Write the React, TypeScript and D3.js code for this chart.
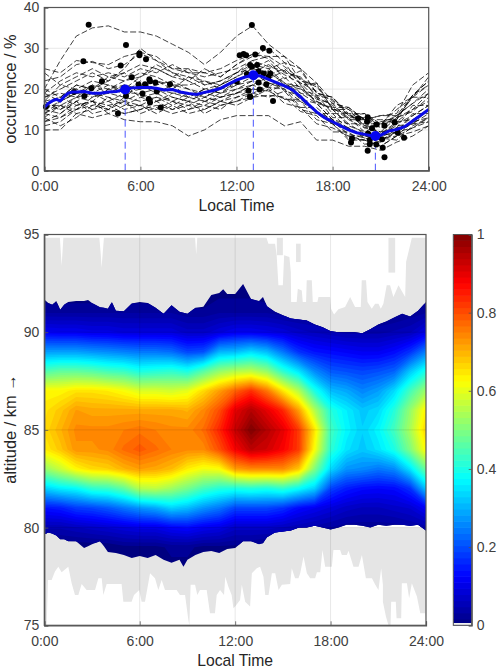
import { useEffect, useRef } from 'react';
import * as d3 from 'd3';

// Upper panel: one dashed curve per night, hourly occurrence in %
const hourTicks = [0, 6, 12, 18, 24];
const hourLabels = ['0:00', '6:00', '12:00', '18:00', '24:00'];
const seriesHours = d3.range(0, 25);
const nightlySeries = [
  [20, 27, 33, 35, 35.5, 34, 34, 33, 31, 29, 26, 29, 33, 35.5, 31, 28, 25, 21.5, 15, 14, 10.5, 11.5, 12.5, 18.5, 22],
  [10, 10, 14, 13, 14, 12.5, 12, 12, 11, 8.5, 10, 12.5, 13.5, 13.5, 13.5, 11, 12, 7.5, 7.5, 6, 6, 5, 7, 8.5, 11],
  [25, 24, 27, 26.5, 26, 28, 29, 28, 25, 24, 24, 23, 26, 28, 30, 26.5, 25, 19, 18, 13.5, 14, 11.5, 15, 18, 23],
  [22, 23, 26, 26.8, 25, 26, 28.7, 27, 25, 25, 24, 25, 27, 28.5, 28, 28, 22, 21, 15, 15, 12.5, 13.5, 14, 21, 24],
  [18, 20, 22, 24, 22, 25, 30, 27, 24, 22, 25, 23, 26, 28.6, 27.5, 24, 23, 18, 16, 13, 13, 11, 16, 18, 21],
  [14, 17, 19, 21, 20, 22, 23, 26, 24, 23, 22, 21, 24, 26, 25, 26.5, 21, 21.5, 17, 15, 11, 12, 13, 18, 18],
  [17, 18, 21, 20, 22, 24, 21, 22, 20, 23, 21, 22, 24, 25, 27, 22.5, 24.5, 19, 18, 14, 14, 10.5, 13, 15, 19],
  [15, 14, 17, 19, 21, 19, 20, 22, 21, 20, 19, 21, 23, 25, 24, 21.5, 19, 18, 13, 13, 9.5, 11.5, 12, 15, 17],
  [13, 16, 15, 18, 19, 18, 21, 19, 21, 18, 20, 19, 22, 24, 22.5, 24.5, 20, 18.5, 14, 14, 11, 9.5, 10.5, 16, 16],
  [16, 15, 18, 17, 20, 21, 18, 19, 17, 19, 18, 20, 21, 23, 24.5, 21, 20, 17, 15, 11, 9.5, 9, 12, 12.5, 15],
  [19, 17, 20, 19, 18, 17, 19, 20, 18, 17, 19, 18, 20, 22, 20.5, 23, 19, 16.5, 12.5, 11.5, 9, 8.5, 9.5, 14, 14],
  [12, 13, 16, 17, 15, 18, 17, 18, 16, 18, 17, 19, 20, 21, 23, 19.5, 18.5, 14, 14, 10, 8.5, 9, 11, 11.5, 14],
  [11, 12, 15, 16, 17, 15, 16, 15, 17, 16, 18, 17, 19, 21, 21.5, 20, 17, 14.5, 11.5, 10.5, 8, 8, 8.5, 12, 13],
  [14, 16, 14, 15, 16, 14, 15, 17, 15, 16, 15, 17, 18, 20, 20.5, 20, 15.5, 15.5, 12, 9, 8, 7, 10.5, 11.5, 12],
  [17, 15, 17, 14, 15, 17, 14, 15.5, 14, 15, 16, 15, 18, 19, 20.5, 17.5, 17, 12.5, 11.5, 8, 7.5, 8, 7.5, 11, 13],
  [16, 18, 16, 17, 14, 16, 16, 14, 16, 14, 15, 17, 16, 18, 18.5, 18, 14.5, 13.5, 9.5, 9.5, 6.5, 7, 9.5, 10.5, 12],
  [13, 11, 13, 16, 15, 14, 15, 16, 15, 17, 14, 16, 17, 19, 18, 19.5, 15, 14, 11.5, 7.5, 7.5, 6, 8.5, 9.5, 11],
  [15, 17, 19, 18, 20, 19, 22, 20, 19, 18, 20, 19, 21, 22, 25, 21.5, 20.5, 17, 15, 11.5, 11.5, 9, 11.5, 13.5, 16],
  [18, 19, 18, 21, 19, 21, 20, 21, 22, 20, 18, 20, 22, 24, 21.5, 20.5, 21, 16.5, 15.5, 12.5, 10.5, 9.5, 13, 14.5, 18],
  [20, 18, 21, 20, 23, 22, 24, 23, 21, 21, 22, 20, 22, 24, 26, 23.5, 21.5, 17.5, 16.5, 12.5, 12.5, 10.5, 13.5, 16.5, 20],
  [17, 21, 20, 22, 21, 20, 23, 25, 23, 22, 20, 21, 23, 26, 23.5, 25, 21.5, 19.5, 15.5, 15.5, 12.5, 12.5, 12.5, 18.5, 21],
  [12, 14, 17, 15, 18, 16, 18, 17, 18, 17, 16, 18, 19, 20, 19.5, 17.5, 17.5, 14.5, 12.5, 8.5, 8.5, 7.5, 9.5, 11.5, 15],
  [14, 13, 15, 17, 16, 17, 16, 18, 17, 15, 17, 16, 17, 18, 20, 16.5, 15.5, 11.5, 10.5, 8.5, 7.5, 6, 8.5, 10.5, 13],
  [16, 16, 18, 19, 17, 19, 19, 17, 19, 19, 17, 18, 19, 21, 19.5, 21, 17.5, 16.5, 12.5, 10.5, 8.5, 8.5, 9.5, 13.5, 16],
  [19, 22, 24, 23, 24, 23, 25, 24, 26, 24, 23, 24, 25, 27, 25.5, 24.5, 22.5, 20.5, 16.5, 15.5, 12.5, 13.5, 13.5, 18.5, 22],
  [24, 21, 23, 25, 23, 24, 26, 25, 23, 25, 21, 22, 24, 27, 28, 25.5, 22.5, 18.5, 17.5, 13.5, 12.5, 11.5, 13.5, 16.5, 19],
];

// mean curve
const meanHours = [0, 0.25, 0.5, 0.75, 1, 1.25, 1.5, 1.75, 2, 2.5, 3, 3.5, 4, 4.5, 5, 5.5, 6, 6.5, 7, 7.5, 8, 8.5, 9, 9.5, 10, 10.5, 11, 11.5, 12, 12.5, 13, 13.5, 14, 14.5, 15, 15.5, 16, 16.5, 17, 17.5, 18, 18.5, 19, 19.5, 20, 20.5, 21, 21.5, 22, 22.5, 23, 23.5, 24];
const meanValues = [15.5, 16.5, 17.1, 17.5, 17.1, 18.2, 19, 19.3, 19.3, 19.4, 19, 19, 19.3, 19.4, 19.9, 20.3, 20.4, 20.4, 20.2, 19.8, 19.9, 19.3, 18.9, 18.7, 19.2, 19.6, 20.2, 21.2, 22.2, 22.9, 23.4, 23.2, 22.4, 21.6, 20.8, 19.8, 18.1, 16.2, 14.4, 13, 12, 11, 10, 9.3, 8.9, 8.5, 8.7, 9.7, 10.1, 10.8, 12.2, 13.6, 15];

// big blue markers with their dashed stems
const peakHours = [5.05, 13.05, 20.67];
const peakValues = [19.9, 23.4, 8.5];

// black dots: extremes of the single nights
const dotHours = [2.77, 5.1, 5.94, 5.94, 6.35, 2.44, 4.77, 5.46, 3.6, 6.56, 6.6, 6.94, 5.88, 6.29, 7.85, 1.85, 2.94, 2.5, 6.13, 7.02, 5.1, 6.52, 6.6, 7.27, 4.6, 0.1, 12.02, 12.2, 12.44, 12.6, 12.85, 12.65, 12.75, 12.85, 12.96, 13.65, 14.05, 13.17, 12.96, 13.28, 13.38, 13.69, 14.11, 14, 13.38, 13.86, 13.44, 14.28, 12.86, 19.59, 20.19, 20.15, 20.73, 21.24, 21.88, 20.46, 20.21, 22.07, 22.46, 19.21, 19.15, 20.32, 20.32, 20.73, 21.09, 21.13, 20.19, 21.24];
const dotValues = [35.8, 30.8, 28.7, 28.3, 27.3, 26.8, 25.8, 22.9, 21.9, 22.4, 21.9, 21.6, 21.1, 21.2, 21.2, 19.3, 20.2, 18.3, 18.9, 19.4, 18.3, 17.6, 16.7, 15.5, 14, 15.7, 21.8, 28.3, 28.6, 28.3, 25.9, 23.7, 19.6, 18.1, 35.7, 30.1, 29.4, 28.5, 25.5, 25.9, 24.4, 23.8, 23.8, 23, 21.6, 21.2, 19.9, 17.1, 18.1, 12.8, 13.1, 12, 11.3, 11, 11.8, 10.4, 9.1, 9.3, 8.1, 7.9, 6.9, 7.5, 6.5, 6.4, 7.7, 5.6, 4.9, 3.3];

// Lower panel: one column per hour, normalised intensity at altitudes 92 ... 79 km
const heatAltitudes = [92, 91, 90, 89, 88, 87, 86, 85, 84, 83, 82, 81, 80, 79];
const heatByHour = [
  [0, 0.03, 0.115, 0.28, 0.45, 0.63, 0.65, 0.66, 0.64, 0.52, 0.33, 0.14, 0.05, 0],
  [0, 0.03, 0.11, 0.28, 0.47, 0.63, 0.68, 0.7, 0.68, 0.57, 0.36, 0.15, 0.05, 0],
  [0, 0.03, 0.11, 0.28, 0.47, 0.65, 0.72, 0.74, 0.73, 0.63, 0.375, 0.18, 0.06, 0],
  [0, 0.03, 0.1, 0.27, 0.46, 0.65, 0.71, 0.74, 0.73, 0.66, 0.42, 0.19, 0.07, 0],
  [0, 0.03, 0.1, 0.26, 0.44, 0.64, 0.71, 0.74, 0.74, 0.67, 0.43, 0.21, 0.08, 0],
  [0, 0.03, 0.09, 0.25, 0.43, 0.62, 0.71, 0.75, 0.77, 0.7, 0.47, 0.24, 0.09, 0.01],
  [0, 0.03, 0.09, 0.24, 0.4, 0.59, 0.71, 0.76, 0.79, 0.72, 0.55, 0.27, 0.1, 0.01],
  [0, 0.03, 0.09, 0.24, 0.41, 0.59, 0.71, 0.75, 0.77, 0.71, 0.56, 0.29, 0.1, 0.01],
  [0, 0.03, 0.09, 0.23, 0.42, 0.58, 0.71, 0.74, 0.75, 0.69, 0.53, 0.33, 0.12, 0.02],
  [0, 0.02, 0.07, 0.19, 0.4, 0.6, 0.7, 0.74, 0.74, 0.64, 0.49, 0.31, 0.13, 0.02],
  [0, 0.02, 0.07, 0.2, 0.46, 0.66, 0.74, 0.77, 0.74, 0.61, 0.44, 0.27, 0.11, 0.01],
  [0.01, 0.03, 0.09, 0.3, 0.52, 0.72, 0.8, 0.84, 0.8, 0.62, 0.41, 0.24, 0.1, 0.01],
  [0.01, 0.03, 0.11, 0.31, 0.55, 0.78, 0.9, 0.93, 0.88, 0.72, 0.4, 0.19, 0.07, 0.01],
  [0.01, 0.03, 0.11, 0.34, 0.56, 0.83, 0.95, 1, 0.94, 0.74, 0.41, 0.19, 0.07, 0.01],
  [0, 0.03, 0.1, 0.31, 0.52, 0.76, 0.9, 0.95, 0.92, 0.74, 0.4, 0.19, 0.07, 0],
  [0, 0.02, 0.09, 0.24, 0.42, 0.65, 0.84, 0.9, 0.88, 0.74, 0.42, 0.17, 0.06, 0],
  [0, 0.02, 0.07, 0.17, 0.35, 0.55, 0.72, 0.82, 0.82, 0.68, 0.38, 0.13, 0.05, 0],
  [0, 0.02, 0.06, 0.14, 0.26, 0.4, 0.55, 0.65, 0.62, 0.5, 0.33, 0.11, 0.04, 0],
  [0, 0.01, 0.05, 0.13, 0.21, 0.31, 0.41, 0.44, 0.42, 0.34, 0.19, 0.09, 0.03, 0],
  [0, 0.01, 0.04, 0.12, 0.2, 0.29, 0.36, 0.37, 0.35, 0.27, 0.15, 0.07, 0.02, 0],
  [0, 0.01, 0.04, 0.11, 0.19, 0.255, 0.32, 0.33, 0.32, 0.26, 0.13, 0.06, 0.02, 0],
  [0, 0.01, 0.04, 0.11, 0.2, 0.28, 0.34, 0.37, 0.35, 0.24, 0.125, 0.06, 0.02, 0],
  [0, 0.01, 0.05, 0.13, 0.22, 0.34, 0.41, 0.44, 0.4, 0.26, 0.13, 0.07, 0.02, 0],
  [0, 0.02, 0.06, 0.17, 0.32, 0.44, 0.52, 0.54, 0.5, 0.35, 0.17, 0.08, 0.03, 0],
  [0, 0.03, 0.1, 0.25, 0.4, 0.53, 0.64, 0.67, 0.63, 0.48, 0.32, 0.12, 0.04, 0],
];

// limits of the coloured band, km
const bandHours = [0, 0.25, 0.5, 0.75, 1, 1.25, 1.5, 2, 2.5, 2.75, 3, 3.5, 3.75, 4, 4.25, 4.5, 5, 5.5, 6, 6.5, 7, 7.5, 8, 8.5, 8.75, 9, 9.5, 10, 10.5, 11, 11.25, 11.5, 12, 12.5, 13, 13.5, 13.75, 14, 14.5, 15, 15.5, 16, 16.5, 17, 17.5, 18, 18.5, 19, 19.5, 20, 20.5, 21, 21.5, 22, 22.5, 23, 23.5, 24];
const bandTop = [91.67, 91.5, 91.4, 91.6, 91.15, 91.4, 91.55, 91.6, 91.6, 91.65, 91.5, 91.28, 91.25, 91.2, 91.55, 91.1, 91.07, 91.47, 91.55, 91.5, 91.25, 90.95, 91.38, 91.05, 91, 90.95, 91.25, 91.3, 91.9, 92, 92.2, 91.95, 91.95, 92.47, 91.7, 91.6, 91.8, 91.33, 91.05, 90.87, 90.7, 90.65, 90.6, 90.4, 90.25, 90.05, 90, 90, 90, 89.95, 90.15, 90.4, 90.55, 90.75, 90.95, 90.8, 91.1, 91.55];
const bandBottom = [79.65, 79.75, 79.7, 79.6, 79.4, 79.4, 79.3, 79.3, 78.95, 79.05, 79.15, 79.3, 79.05, 78.75, 78.72, 78.7, 78.6, 78.45, 78.55, 78.45, 78.6, 78.35, 78.2, 78.35, 78, 78.35, 78.6, 78.75, 78.8, 78.7, 78.8, 78.9, 78.95, 79.3, 79.3, 79.15, 79.2, 79.5, 79.75, 79.8, 79.85, 80, 80, 80.1, 80, 79.9, 80, 80.15, 80.15, 80.1, 80, 80.15, 80.1, 80.15, 80.15, 80.1, 80.15, 79.85];

// grey zone above the band: lower limit of the white part
const upperGreyHours = [0, 0.98, 1.09, 1.2, 3.46, 3.55, 3.6, 3.75, 9.48, 9.55, 9.62, 13.97, 14.09, 14.51, 14.61, 14.72, 15, 15.08, 15.41, 15.5, 15.52, 15.87, 15.94, 16.19, 16.25, 16.46, 16.5, 16.82, 16.88, 17.17, 17.24, 17.97, 18.03, 18.22, 18.49, 18.91, 19.23, 19.54, 19.9, 19.96, 20.23, 20.32, 20.59, 20.8, 21.01, 21.16, 21.32, 21.53, 21.74, 21.95, 22.27, 22.69, 22.75, 23, 23.11, 24];
const upperGreyAlts = [94.83, 94.83, 93.4, 94.83, 94.83, 94, 93.3, 94.83, 94.83, 93.98, 94.83, 94.83, 94.53, 94.53, 93.94, 92.4, 92.4, 93.94, 93.85, 93.08, 91.55, 91.55, 92.23, 92.14, 91.55, 91.55, 92.66, 92.66, 91.55, 91.55, 91.8, 91.8, 91.2, 90.9, 91.17, 91.29, 91.8, 91.29, 91.29, 92.66, 92.66, 91.55, 91.2, 91.46, 91.46, 91.2, 91.46, 92.4, 92.4, 91.8, 92.4, 91.8, 93.6, 94.45, 94.83, 94.83];
const islandStart = [14.62, 15.83, 21.64];
const islandEnd = [15, 16.12, 22.06];
const islandLow = [93.94, 93.59, 93.05];
const islandHigh = [94.83, 94.53, 94.83];

// grey zone below the band: upper limit of the white part
const lowerGreyHours = [0, 0.15, 0.23, 0.46, 0.67, 0.88, 1.09, 1.51, 1.72, 1.93, 2.14, 2.35, 2.66, 3.19, 3.4, 3.61, 3.71, 3.92, 4.86, 4.97, 5.49, 5.64, 5.97, 6.12, 6.33, 6.65, 6.96, 7.17, 7.38, 7.59, 8.32, 8.53, 8.85, 9.06, 9.12, 9.2, 9.48, 9.62, 9.79, 10.21, 10.42, 10.73, 10.84, 11.05, 11.3, 11.38, 11.57, 11.78, 11.89, 12, 12.31, 12.42, 12.63, 12.94, 13.05, 13.36, 13.57, 13.78, 13.89, 14.1, 14.31, 14.52, 14.73, 14.94, 15.46, 15.56, 15.77, 15.98, 16.09, 16.3, 16.51, 16.72, 17.03, 17.14, 17.35, 17.49, 17.66, 18.08, 18.18, 18.6, 18.71, 19.02, 19.13, 19.44, 19.76, 19.97, 20.22, 20.6, 20.81, 21.01, 21.18, 21.29, 21.29, 21.48, 21.64, 21.77, 21.81, 22.1, 22.15, 22.44, 22.48, 22.59, 22.8, 22.94, 23.11, 23.43, 23.64, 23.95, 24];
const lowerGreyAlts = [75, 75, 77.32, 77.32, 77.75, 78, 77.71, 78, 77.15, 76.55, 76.55, 77.12, 76.81, 76.81, 77.41, 77.41, 76.55, 77.12, 77.12, 76.21, 76.21, 76.55, 76.81, 76.21, 76.21, 77.66, 77.41, 76.81, 77.32, 76.81, 76.81, 76.55, 76.55, 75.27, 75, 77.07, 77.07, 76.55, 76.81, 76.81, 75.62, 75.62, 76.55, 76.81, 76.55, 77.49, 76.98, 76.55, 75.87, 75.96, 76.3, 77.07, 76.21, 75.96, 77.66, 77.92, 78, 77.49, 76.55, 76.55, 77.66, 77.66, 76.81, 77.07, 77.12, 77.92, 77.41, 77.41, 77.66, 78.52, 77.66, 77.41, 77.41, 77.71, 77.71, 78.86, 78, 78, 78.86, 78.86, 78.6, 78.6, 78.82, 78, 78, 78.6, 77.41, 77.41, 77.07, 76.81, 77.92, 77.07, 76.21, 75.45, 75, 75, 76.21, 76.21, 75.36, 75.36, 77.15, 77.15, 77.15, 76.38, 77.15, 76.47, 75.62, 75.62, 75];

const colorTicks = [0, 0.2, 0.4, 0.6, 0.8, 1];
const altitudeTicks = [75, 80, 85, 90, 95];
const occurrenceTicks = [0, 10, 20, 30, 40];

const jetStops = ['#000080', '#0000ff', '#00ffff', '#ffff00', '#ff0000', '#800000'];
const jet = d3.scaleLinear<string>().domain([0, 0.125, 0.375, 0.625, 0.875, 1]).range(jetStops).clamp(true);

const FONT = '"Liberation Sans", Arial, sans-serif';
const AXIS = '#555555';
const TEXT = '#404040';
const GREY = '#e5e5e5';

function styleAxis(g: any, size = 14) {
  g.selectAll('path').attr('stroke', AXIS).attr('stroke-width', 1.2);
  g.selectAll('line').attr('stroke', AXIS).attr('stroke-width', 0.8);
  g.selectAll('text').attr('fill', TEXT).attr('font-size', size).attr('font-family', FONT);
}

export default function App() {
  const svgRef = useRef<SVGSVGElement>(null);

  useEffect(() => {
    const svg = d3.select(svgRef.current);
    svg.selectAll('*').remove();

    // ---- upper panel
    const x1 = d3.scaleLinear().domain([0, 24]).range([44.3, 428.7]);
    const y1 = d3.scaleLinear().domain([0, 40]).range([170.7, 7.5]);
    const top = svg.append('g');

    top.selectAll('line.vg').data(hourTicks.slice(1, -1)).join('line')
      .attr('x1', d => x1(d)).attr('x2', d => x1(d))
      .attr('y1', y1(0)).attr('y2', y1(40))
      .attr('stroke', '#e2e2e2').attr('stroke-width', 0.8);
    top.selectAll('line.hg').data(occurrenceTicks.slice(1, -1)).join('line')
      .attr('x1', x1(0)).attr('x2', x1(24))
      .attr('y1', d => y1(d)).attr('y2', d => y1(d))
      .attr('stroke', '#e2e2e2').attr('stroke-width', 0.8);

    const seriesLine = d3.line<number>().x((_, i) => x1(seriesHours[i])).y(d => y1(d));
    top.append('g').selectAll('path').data(nightlySeries).join('path')
      .attr('d', d => seriesLine(d))
      .attr('fill', 'none')
      .attr('stroke', '#000')
      .attr('stroke-width', 0.75)
      .attr('stroke-dasharray', '6 2.5');

    top.selectAll('line.stem').data(peakHours).join('line')
      .attr('x1', d => x1(d)).attr('x2', d => x1(d))
      .attr('y1', y1(0)).attr('y2', (_, i) => y1(peakValues[i]))
      .attr('stroke', '#4a55ff').attr('stroke-width', 1).attr('stroke-dasharray', '7 4');

    top.append('g').selectAll('circle').data(dotHours).join('circle')
      .attr('cx', d => x1(d)).attr('cy', (_, i) => y1(dotValues[i]))
      .attr('r', 3).attr('fill', '#000');

    const meanLine = d3.line<number>().x((_, i) => x1(meanHours[i])).y(d => y1(d));
    top.append('path').attr('d', meanLine(meanValues))
      .attr('fill', 'none').attr('stroke', '#0a0ae6').attr('stroke-width', 3);

    top.append('g').selectAll('circle').data(peakHours).join('circle')
      .attr('cx', d => x1(d)).attr('cy', (_, i) => y1(peakValues[i]))
      .attr('r', 5).attr('fill', '#0505f0');

    // ---- lower panel
    const x2 = d3.scaleLinear().domain([0, 24]).range([44.3, 426]);
    const y2 = d3.scaleLinear().domain([75, 95]).range([625.3, 234.5]);
    const low = svg.append('g');

    const greyUpper = d3.area<number>()
      .x((_, i) => x2(upperGreyHours[i])).y0(y2(90)).y1(d => y2(d));
    low.append('path').attr('d', greyUpper(upperGreyAlts)).attr('fill', GREY);
    low.selectAll('rect.island').data(islandStart).join('rect')
      .attr('x', d => x2(d))
      .attr('width', (d, i) => x2(islandEnd[i]) - x2(d))
      .attr('y', (_, i) => y2(islandHigh[i]))
      .attr('height', (_, i) => y2(islandLow[i]) - y2(islandHigh[i]))
      .attr('fill', GREY);
    const greyLower = d3.area<number>()
      .x((_, i) => x2(lowerGreyHours[i])).y0(y2(80)).y1(d => y2(d));
    low.append('path').attr('d', greyLower(lowerGreyAlts)).attr('fill', GREY);

    const band = d3.area<number>()
      .x((_, i) => x2(bandHours[i]))
      .y0((_, i) => y2(bandBottom[i]))
      .y1(d => y2(d));
    svg.append('clipPath').attr('id', 'band-clip').append('path').attr('d', band(bandTop));
    low.append('path').attr('d', band(bandTop)).attr('fill', jet(0));

    // filled contours of the hourly table, painted from low to high
    const nx = heatByHour.length;
    const ny = heatAltitudes.length;
    const flat = new Array(nx * ny);
    heatByHour.forEach((col, i) => col.forEach((v, j) => { flat[i + j * nx] = v; }));
    const levels = d3.range(1, 64).map(k => k / 64);
    const contours = d3.contours().size([nx, ny]).thresholds(levels)(flat);
    const project = d3.geoPath(d3.geoTransform({
      point(px: number, py: number) {
        (this as any).stream.point(x2(px - 0.5), y2(heatAltitudes[0] - (py - 0.5)));
      },
    }));
    low.append('g').attr('clip-path', 'url(#band-clip)')
      .selectAll('path').data(contours).join('path')
      .attr('d', d => project(d as any))
      .attr('fill', d => jet(d.value + 1 / 128));

    // grid drawn over the image
    low.selectAll('line.vg').data(hourTicks.slice(1, -1)).join('line')
      .attr('x1', d => x2(d)).attr('x2', d => x2(d))
      .attr('y1', y2(75)).attr('y2', y2(95))
      .attr('stroke', '#000').attr('stroke-opacity', 0.12).attr('stroke-width', 0.8);
    low.selectAll('line.hg').data(altitudeTicks.slice(1, -1)).join('line')
      .attr('x1', x2(0)).attr('x2', x2(24))
      .attr('y1', d => y2(d)).attr('y2', d => y2(d))
      .attr('stroke', '#000').attr('stroke-opacity', 0.12).attr('stroke-width', 0.8);

    // ---- colour bar
    const yc = d3.scaleLinear().domain([0, 1]).range([625.3, 234.5]);
    const barLevels = d3.range(0, 64);
    const bar = svg.append('g');
    bar.selectAll('rect').data(barLevels).join('rect')
      .attr('x', 453.3).attr('width', 18.4)
      .attr('y', d => yc((d + 1) / 64) - 0.3)
      .attr('height', d => yc(d / 64) - yc((d + 1) / 64) + 0.6)
      .attr('fill', d => jet((d + 0.5) / 64));
    bar.append('rect').attr('x', 453.3).attr('width', 18.4).attr('y', 623).attr('height', 2.3).attr('fill', '#f0f0f0');

    // ---- axes
    const frame = (sel: any, x: any, y: any) => {
      sel.append('rect')
        .attr('x', x.range()[0]).attr('y', y.range()[1])
        .attr('width', x.range()[1] - x.range()[0])
        .attr('height', y.range()[0] - y.range()[1])
        .attr('fill', 'none').attr('stroke', AXIS).attr('stroke-width', 1.2);
    };
    frame(top, x1, y1);
    frame(low, x2, y2);
    bar.append('rect').attr('x', 453.3).attr('y', 234.5).attr('width', 18.4).attr('height', 390.8)
      .attr('fill', 'none').attr('stroke', AXIS).attr('stroke-width', 1);

    const hourFormat = (d: any) => hourLabels[hourTicks.indexOf(d)];
    top.append('g').attr('transform', `translate(0,${y1(0)})`)
      .call(d3.axisBottom(x1).tickValues(hourTicks).tickFormat(hourFormat).tickSize(-4).tickPadding(10.5))
      .call(styleAxis);
    top.append('g').attr('transform', `translate(${x1(0)},0)`)
      .call(d3.axisLeft(y1).tickValues(occurrenceTicks).tickSize(-4).tickPadding(5))
      .call(styleAxis);
    low.append('g').attr('transform', `translate(0,${y2(75)})`)
      .call(d3.axisBottom(x2).tickValues(hourTicks).tickFormat(hourFormat).tickSize(-4).tickPadding(10.5))
      .call(styleAxis);
    low.append('g').attr('transform', `translate(${x2(0)},0)`)
      .call(d3.axisLeft(y2).tickValues(altitudeTicks).tickSize(-4).tickPadding(5))
      .call(styleAxis);
    bar.append('g').attr('transform', 'translate(471.7,0)')
      .call(d3.axisRight(yc).tickValues(colorTicks).tickFormat((d: any) => String(d)).tickSize(-3).tickPadding(5))
      .call(styleAxis);

    // ---- labels
    const label = (text: string, px: number, py: number, rotate = false) => {
      svg.append('text')
        .attr('transform', `translate(${px},${py})${rotate ? ' rotate(-90)' : ''}`)
        .attr('text-anchor', 'middle')
        .attr('font-family', FONT)
        .attr('font-size', rotate ? 16.4 : 15.7)
        .attr('fill', '#262626')
        .text(text);
    };
    label('Local Time', x1(12), 210.5);
    label('Local Time', x2(12), 665.5);
    label('occurrence / %', 16, y1(20), true);
    label('altitude / km →', 16, 429, true);
  }, []);

  return (
    <svg
      ref={svgRef}
      width={500}
      height={669}
      style={{ position: 'absolute', left: 0, top: 0, background: '#fff' }}
    />
  );
}
